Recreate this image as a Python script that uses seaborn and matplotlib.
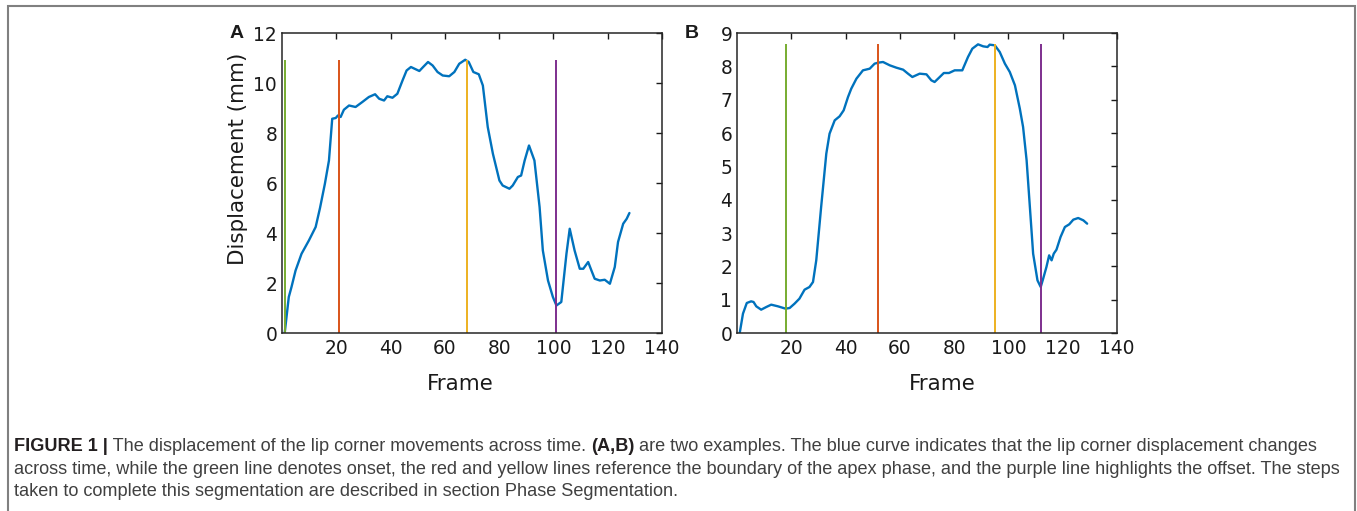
#lip corner displacement figure, two panels + caption
import pandas as pd
import numpy as np
import matplotlib
matplotlib.use('Agg')
import matplotlib.pyplot as plt
import seaborn as sns
from matplotlib.patches import Rectangle

#panel A curve (frame, displacement in mm)
frames_a = [1, 2.5, 3.5, 5, 7.2, 9.9, 12.4, 14, 15.8, 17.3, 18.5, 19.8, 20.6, 21.6, 22.8, 24.7,
            27.1, 29.6, 32, 34.3, 35.8, 37.6, 38.8, 40.7, 42.5, 44.4, 45.9, 47.5, 50.6, 52,
            53.8, 55.5, 57.3, 59.2, 61.6, 63.5, 65.3, 67.5, 68.8, 70.5, 72.5, 74, 75.8, 77.7,
            80.1, 81.3, 83.8, 85, 86.9, 88.1, 89.4, 91, 93, 94.9, 96.1, 98, 99.8, 101.1,
            102.9, 104.8, 106, 107.8, 109.7, 111, 112.8, 114, 115.2, 117.1, 118.9, 120.8,
            122.6, 123.8, 125.7, 127, 128]
disp_a = [0, 1.44, 1.84, 2.5, 3.17, 3.7, 4.24, 5.0, 5.97, 6.9, 8.57, 8.6, 8.7, 8.64, 8.93, 9.1,
          9.04, 9.24, 9.44, 9.55, 9.37, 9.3, 9.47, 9.41, 9.57, 10.1, 10.5, 10.64, 10.48, 10.64,
          10.84, 10.7, 10.44, 10.3, 10.27, 10.44, 10.77, 10.93, 10.84, 10.44, 10.35, 9.9, 8.24, 7.17,
          6.1, 5.9, 5.77, 5.9, 6.24, 6.3, 6.9, 7.5, 6.9, 5.04, 3.3, 2.1, 1.44, 1.1,
          1.24, 3.17, 4.17, 3.3, 2.57, 2.57, 2.84, 2.5, 2.17, 2.1, 2.13, 1.97,
          2.64, 3.64, 4.37, 4.57, 4.8]

#panel B curve
frames_b = [1, 2.2, 3.6, 5.2, 6.1, 7.1, 8.9, 10.8, 12.6, 15.1, 17.9, 19.4, 21.2, 23, 24.9, 26.7,
            28, 29.2, 31, 32.9, 34.1, 36, 37.8, 39.3, 40.9, 42.1, 44, 46.4, 48.9, 50.7, 52,
            53.8, 56.3, 58.7, 61.2, 63, 64.6, 67.3, 69.8, 71.6, 72.8, 74.7, 76.2, 78.1, 80.2,
            83, 85.1, 86.7, 88.8, 90.7, 92.3, 93.1, 95, 96.8, 98.7, 100.5, 102.4, 104.2, 105.4,
            106.7, 107.9, 109.1, 110.7, 111.9, 112.8, 114, 115, 115.9, 116.7, 117.7, 119.2,
            120.8, 122.4, 123.9, 125.7, 127.6, 129]
disp_b = [0, 0.58, 0.9, 0.95, 0.93, 0.8, 0.7, 0.78, 0.85, 0.8, 0.73, 0.75, 0.88, 1.03, 1.3, 1.38,
          1.53, 2.18, 3.78, 5.38, 5.98, 6.38, 6.5, 6.68, 7.08, 7.33, 7.63, 7.88, 7.93, 8.08, 8.11,
          8.13, 8.03, 7.96, 7.9, 7.78, 7.68, 7.78, 7.76, 7.58, 7.53, 7.68, 7.8, 7.8, 7.88,
          7.88, 8.28, 8.53, 8.66, 8.6, 8.58, 8.65, 8.63, 8.43, 8.08, 7.83, 7.43, 6.73, 6.18,
          5.18, 3.78, 2.38, 1.58, 1.38, 1.63, 1.98, 2.33, 2.18, 2.38, 2.5, 2.88,
          3.18, 3.26, 3.4, 3.45, 3.38, 3.28]

#phase boundaries: onset, apex start, apex end, offset
phases_a = [1, 21, 68, 101]
phases_b = [18, 52, 95, 112]
phase_colors = ['#77AC30', '#D95319', '#EDB120', '#7E2F8E']

yticks_a = [0, 2, 4, 6, 8, 10, 12]
yticks_b = list(range(0, 10))
xticks = [20, 40, 60, 80, 100, 120, 140]

sns.set_style('white')
plt.rcParams['font.family'] = ['DejaVu Sans']

fig = plt.figure(figsize=(13.57, 5.11), dpi=100)
ax_a = fig.add_axes([282/1357, 178/511, 380/1357, 300/511])
ax_b = fig.add_axes([737/1357, 178/511, 380/1357, 300/511])

panels = [(ax_a, frames_a, disp_a, phases_a, yticks_a, 'A', (0.47, -0.137)),
          (ax_b, frames_b, disp_b, phases_b, yticks_b, 'B', (0.54, -0.137))]

for ax, fr, dv, ph, yt, letter, xlab_pos in panels:
    df = pd.DataFrame({'frame': fr, 'disp': dv})
    sns.lineplot(data=df, x='frame', y='disp', ax=ax, color='#0072BD', lw=1.7, sort=False,
                 estimator=None)
    ax.vlines(ph, 0, max(dv), colors=phase_colors, lw=1.4)
    ax.set_xlim(0, 140)
    ax.set_ylim(yt[0], yt[-1])
    ax.set_xticks(xticks)
    ax.set_yticks(yt)
    ax.tick_params(direction='in', length=4, width=1, top=True, right=True,
                   labelsize=13.4, colors='#1a1a1a', pad=4.5)
    ax.tick_params(axis='y', pad=3.5)
    for s in ax.spines.values():
        s.set_color('#262626')
        s.set_linewidth(1.1)
    ax.set_xlabel('Frame', fontsize=15.4, color='#1a1a1a')
    ax.xaxis.set_label_coords(*xlab_pos)
    ax.set_ylabel('')
    ax.text(-0.137, 1.0, letter, transform=ax.transAxes, fontsize=14, fontweight='bold',
            family=['Liberation Sans', 'DejaVu Sans'], ha='left', va='center', color='#1a1a1a')

ax_a.set_ylabel('Displacement (mm)', fontsize=15.4, color='#1a1a1a')
ax_a.yaxis.set_label_coords(-0.0895, 0.58)

#caption, first line mixes bold and regular runs
cap_font = ['Liberation Sans', 'DejaVu Sans']
cap_size = 13.1
cap_col = '#404040'
bold_col = '#231f20'
x0 = 14/1357
prev = fig.text(x0, (511-451)/511, 'FIGURE 1 |', fontsize=cap_size, fontweight='bold',
                family=cap_font, color=bold_col, va='baseline')
pieces = [(' The displacement of the lip corner movements across time. ', 'normal'),
          ('(A,B)', 'bold'),
          (' are two examples. The blue curve indicates that the lip corner displacement changes', 'normal')]
for txt, w in pieces:
    prev = ax_a.annotate(txt, xy=(1, 0), xycoords=prev, fontsize=cap_size, fontweight=w,
                         family=cap_font, color=cap_col if w == 'normal' else bold_col,
                         va='bottom', ha='left', annotation_clip=False)
fig.text(x0, (511-474)/511, 'across time, while the green line denotes onset, the red and yellow lines '
         'reference the boundary of the apex phase, and the purple line highlights the offset. The steps',
         fontsize=cap_size, family=cap_font, color=cap_col, va='baseline')
fig.text(x0, (511-496)/511, 'taken to complete this segmentation are described in section Phase Segmentation.',
         fontsize=cap_size, family=cap_font, color=cap_col, va='baseline')

#grey frame round the figure
fig.patches.append(Rectangle((7.5/1357, -0.05), 1347/1357, (511-6)/511 + 0.05, fill=False,
                             edgecolor='#808080', lw=1.5, transform=fig.transFigure, figure=fig))

plt.savefig('out.png', dpi=100)
